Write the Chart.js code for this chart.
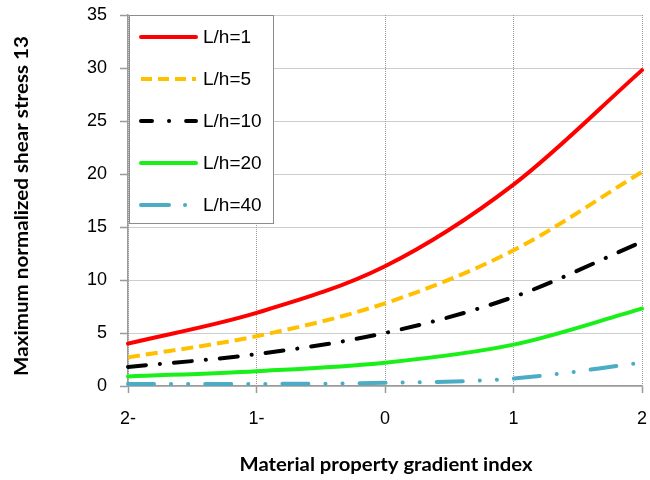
<!DOCTYPE html>
<html>
<head>
<meta charset="utf-8">
<script src="https://cdn.jsdelivr.net/npm/chart.js@4/dist/chart.umd.min.js"></script>
<style>
  html, body { margin: 0; padding: 0; background: #fff; }
</style>
</head>
<body>
<canvas id="c" width="650" height="480"></canvas>
<script>
// Material property gradient index (labels as printed on the axis)
const gradientIndex = ["2-", "1-", "0", "1", "2"];

// Maximum normalized shear stress 13 for each span-to-thickness ratio
const lh1  = [4.0, 6.9, 11.3, 19.0, 29.8];
const lh5  = [2.7, 4.7, 7.8, 12.8, 20.2];
const lh10 = [1.8, 3.0, 5.0, 8.4, 13.6];
const lh20 = [0.9, 1.4, 2.2, 3.9, 7.3];
const lh40 = [0.2, 0.2, 0.3, 0.7, 2.2];

const yTicks = [0, 5, 10, 15, 20, 25, 30, 35];

const seriesLabels = ["L/h=1", "L/h=5", "L/h=10", "L/h=20", "L/h=40"];
const xTitle = "Material property gradient index";
const yTitle = "Maximum normalized shear stress 13";

const tickFont = '"Liberation Sans", Arial, sans-serif';
const titleFont = 'Lato, sans-serif';

// Draws text stretched horizontally to a given width, centred at (cx, cy)
function fitText(ctx, text, cx, cy, width, font) {
  ctx.font = font;
  const w = ctx.measureText(text).width;
  ctx.save();
  ctx.translate(cx, cy);
  ctx.scale(width / w, 1);
  ctx.textAlign = 'center';
  ctx.textBaseline = 'middle';
  ctx.fillText(text, 0, 0);
  ctx.restore();
}

// Axis titles
const axisTitles = {
  id: 'axisTitles',
  afterDraw(chart) {
    const ctx = chart.ctx;
    ctx.save();
    ctx.fillStyle = '#000';
    fitText(ctx, xTitle, 386, 465, 293, 'bold 19px ' + titleFont);
    ctx.translate(22, 206);
    ctx.rotate(-Math.PI / 2);
    fitText(ctx, yTitle, 0, 0, 340, 'bold 18px ' + titleFont);
    ctx.restore();
  }
};

// Boxed legend stacked in the top-left corner of the plot area
const boxLegend = {
  id: 'boxLegend',
  afterDraw(chart) {
    const ctx = chart.ctx, a = chart.chartArea;
    const x0 = a.left + 1, y0 = a.top, w = 144, h = 208;
    ctx.save();
    ctx.fillStyle = '#fff';
    ctx.fillRect(x0, y0, w, h);
    ctx.strokeStyle = '#8c8c8c';
    ctx.lineWidth = 1;
    ctx.setLineDash([]);
    ctx.strokeRect(x0 + 0.5, y0 + 0.5, w, h);
    chart.data.datasets.forEach((ds, i) => {
      const y = y0 + 22 + i * 42;
      ctx.beginPath();
      ctx.setLineDash(ds.legendDash || ds.borderDash || []);
      ctx.lineCap = ds.borderCapStyle || 'butt';
      ctx.strokeStyle = ds.borderColor;
      ctx.lineWidth = ds.borderWidth;
      ctx.moveTo(x0 + 12, y);
      ctx.lineTo(x0 + 67, y);
      ctx.stroke();
      ctx.setLineDash([]);
      ctx.fillStyle = '#000';
      ctx.font = '19px ' + tickFont;
      ctx.textBaseline = 'middle';
      ctx.textAlign = 'left';
      ctx.fillText(ds.label, x0 + 74, y + 1);
    });
    ctx.restore();
  }
};

const gridColor = '#9a9a9a';
const axisColor = '#9a9a9a';

new Chart(document.getElementById('c'), {
  type: 'line',
  data: {
    labels: gradientIndex,
    datasets: [
      { label: seriesLabels[0], data: lh1,  borderColor: '#ff0000', borderWidth: 4,
        borderCapStyle: 'round' },
      { label: seriesLabels[1], data: lh5,  borderColor: '#ffc000', borderWidth: 4,
        borderDash: [12, 6], legendDash: [11, 6], borderCapStyle: 'butt' },
      { label: seriesLabels[2], data: lh10, borderColor: '#000000', borderWidth: 4,
        borderDash: [18, 14, 0.1, 14], legendDash: [11, 17, 0.1, 17], borderCapStyle: 'round' },
      { label: seriesLabels[3], data: lh20, borderColor: '#19f019', borderWidth: 4,
        borderCapStyle: 'round' },
      { label: seriesLabels[4], data: lh40, borderColor: '#4bacc6', borderWidth: 4,
        borderDash: [26, 17, 0.1, 17, 0.1, 17], legendDash: [28, 16, 0.1, 40], borderCapStyle: 'round' }
    ]
  },
  options: {
    responsive: false,
    animation: false,
    devicePixelRatio: 1,
    layout: { padding: 0 },
    elements: {
      point: { radius: 0, hoverRadius: 0 },
      line: { cubicInterpolationMode: 'monotone', fill: false }
    },
    plugins: {
      legend: { display: false },
      tooltip: { enabled: false }
    },
    scales: {
      x: {
        offset: false,
        grid: {
          color: gridColor, lineWidth: 1,
          drawTicks: true, tickLength: 7, tickColor: axisColor, tickBorderDash: [], tickWidth: 1.5
        },
        border: { display: true, color: axisColor, width: 1.5, dash: [1, 1] },
        ticks: {
          color: '#000', padding: 15, maxRotation: 0,
          font: { family: tickFont, size: 18 }
        },
        afterFit(scale) {
          scale.height = 94;
          scale.paddingLeft = 0;
          scale.paddingRight = 8;
        }
      },
      y: {
        min: 0, max: 35,
        afterBuildTicks(scale) { scale.ticks = yTicks.map(v => ({ value: v })); },
        grid: {
          color: gridColor, lineWidth: 1,
          drawTicks: true, tickLength: 8, tickColor: axisColor, tickBorderDash: [], tickWidth: 1.5
        },
        border: { display: true, color: axisColor, width: 1.5, dash: [1, 1] },
        ticks: {
          color: '#000', padding: 13,
          font: { family: tickFont, size: 18 }
        },
        afterFit(scale) {
          scale.width = 128;
          scale.paddingTop = 15;
          scale.paddingBottom = 0;
        }
      }
    }
  },
  plugins: [boxLegend, axisTitles]
});
</script>
</body>
</html>
